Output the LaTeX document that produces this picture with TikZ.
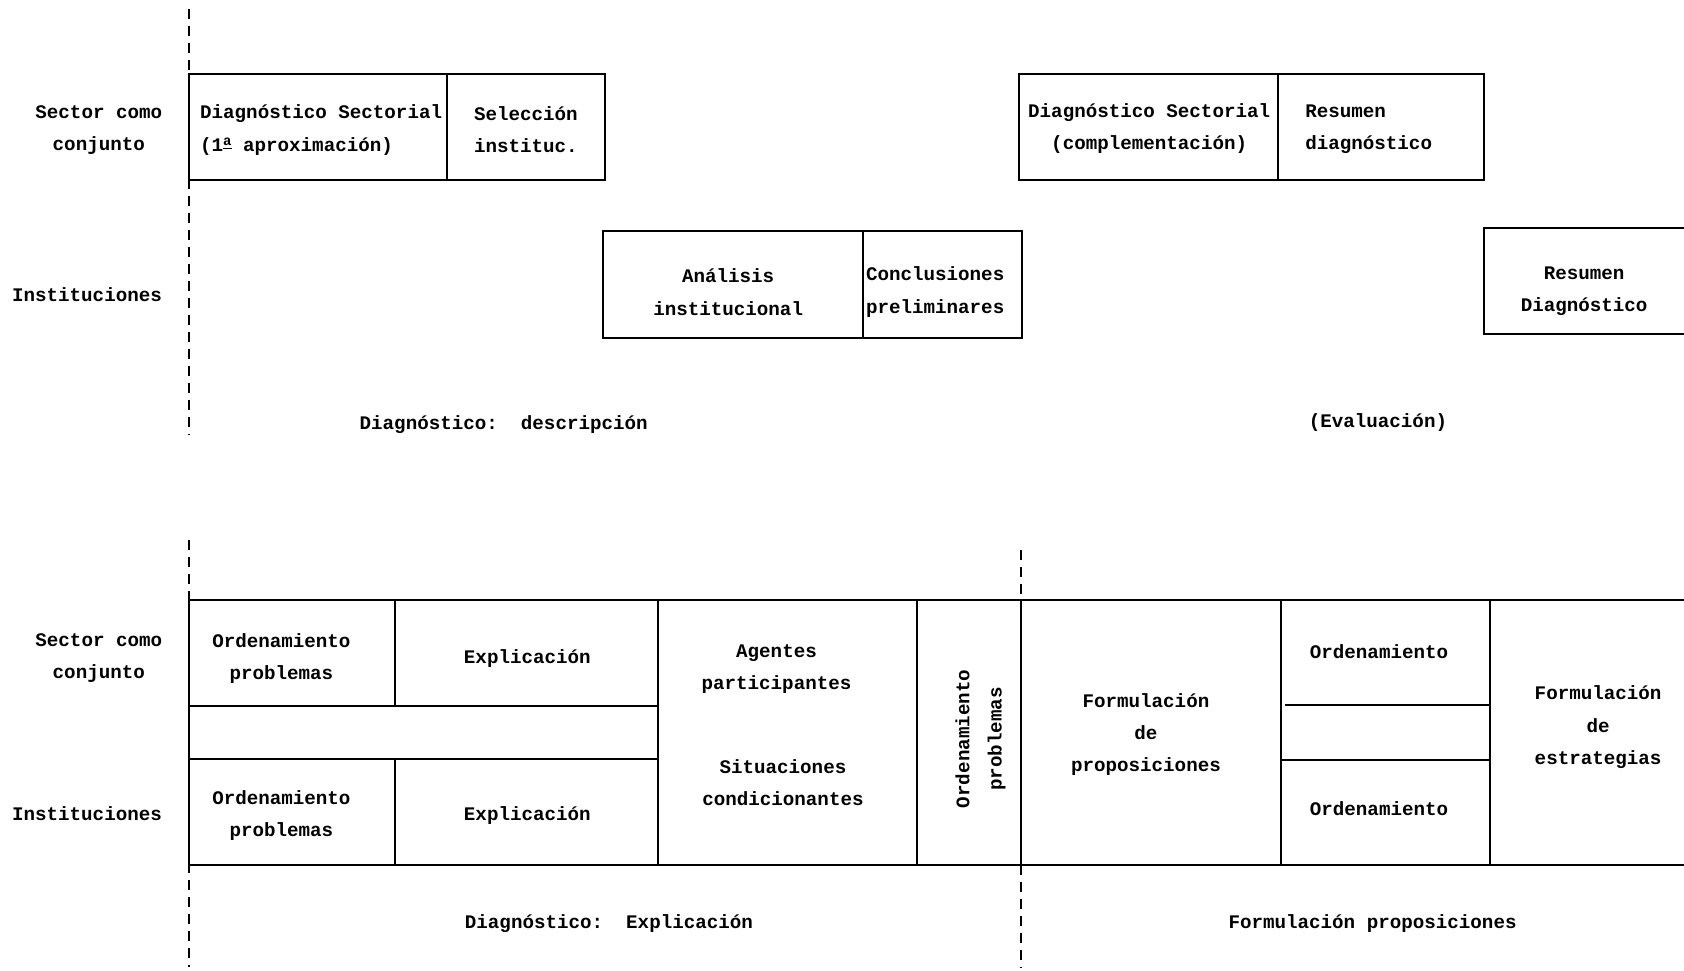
\documentclass[tikz,border=0pt]{standalone}
\usepackage{fontspec}
\setmainfont{Liberation Mono}
\begin{document}
\begin{tikzpicture}[x=0.537pt,y=-0.537pt,
  box/.style={line width=1pt,line cap=rect},
  guide/.style={line width=0.9pt,dash pattern=on 5pt off 3.5pt},
  txt/.style={font=\bfseries\fontsize{9.6}{16.1}\selectfont,inner sep=0pt,align=center},
  txtl/.style={txt,align=left,anchor=west}]
\useasboundingbox (0,0) rectangle (1568,904);
% guide lines
\draw[guide] (176,8) -- (176,405);
\draw[guide] (176,503) -- (176,900);
\draw[guide] (951,512) -- (951,559);
\draw[guide] (951,805) -- (951,900);
% ---------- top section ----------
\draw[box] (176,69) rectangle (563,168);
\draw[box] (416,69) -- (416,168);
\draw[box] (561,215) rectangle (952,315);
\draw[box] (804,215) -- (804,315);
\draw[box] (949,69) rectangle (1382,168);
\draw[box] (1190,69) -- (1190,168);
\draw[box] (1580,212) -- (1382,212) -- (1382,311) -- (1580,311);
\node[txt] (sc1) at (92,121) {Sector como\\conjunto};
\node[txt] (in1) at (81,274) {Instituciones};
\node[txtl] (ds1) at (186,121) {Diagnóstico Sectorial\\(1\raisebox{0.55ex}{\scriptsize\underline{a}} aproximación)};
\node[txtl] (si1) at (441,121) {Selección\\instituc.};
\node[txt] (ai1) at (678,272) {Análisis\\institucional};
\node[txtl] (cp1) at (806,272) {Conclusiones\\preliminares};
\node[txt] (ds2) at (1070,120) {Diagnóstico Sectorial\\(complementación)};
\node[txtl] (rd1) at (1215,120) {Resumen\\diagnóstico};
\node[txt] (rd2) at (1475,271) {Resumen\\Diagnóstico};
\node[txt] (dd1) at (469,395) {Diagnóstico:\ \ descripción};
\node[txt] (ev1) at (1283,393) {(Evaluación)};
% ---------- bottom section ----------
\draw[box] (1580,559) -- (176,559) -- (176,805) -- (1580,805);
\draw[box] (176,657) -- (613,657);
\draw[box] (176,707) -- (613,707);
\draw[box] (368,559) -- (368,657);
\draw[box] (368,707) -- (368,805);
\foreach \xx in {613,854,951,1193,1387}
  \draw[box] (\xx,559) -- (\xx,805);
\draw[box] (1197,656) -- (1387,656);
\draw[box] (1193,708) -- (1387,708);
\node[txt] (sc2) at (92,613) {Sector como\\conjunto};
\node[txt] (in2) at (81,758) {Instituciones};
\node[txt] (op1) at (262,613) {Ordenamiento\\problemas};
\node[txt] (ex1) at (491,613) {Explicación};
\node[txt] (op2) at (262,759) {Ordenamiento\\problemas};
\node[txt] (ex2) at (491,759) {Explicación};
\node[txt] (ag1) at (723,623) {Agentes\\participantes};
\node[txt] (sit1) at (729,729) {Situaciones\\condicionantes};
\node[txt,rotate=90] (op3) at (913,688) {Ordenamiento\\problemas};
\node[txt] (fp1) at (1067,684) {Formulación\\de\\proposiciones};
\node[txt] (or1) at (1284,607) {Ordenamiento};
\node[txt] (or2) at (1284,753) {Ordenamiento};
\node[txt] (fe1) at (1488,677) {Formulación\\de\\estrategias};
\node[txt] (de2) at (567,860) {Diagnóstico:\ \ Explicación};
\node[txt] (fp2) at (1278,860) {Formulación proposiciones};
\end{tikzpicture}
\end{document}
